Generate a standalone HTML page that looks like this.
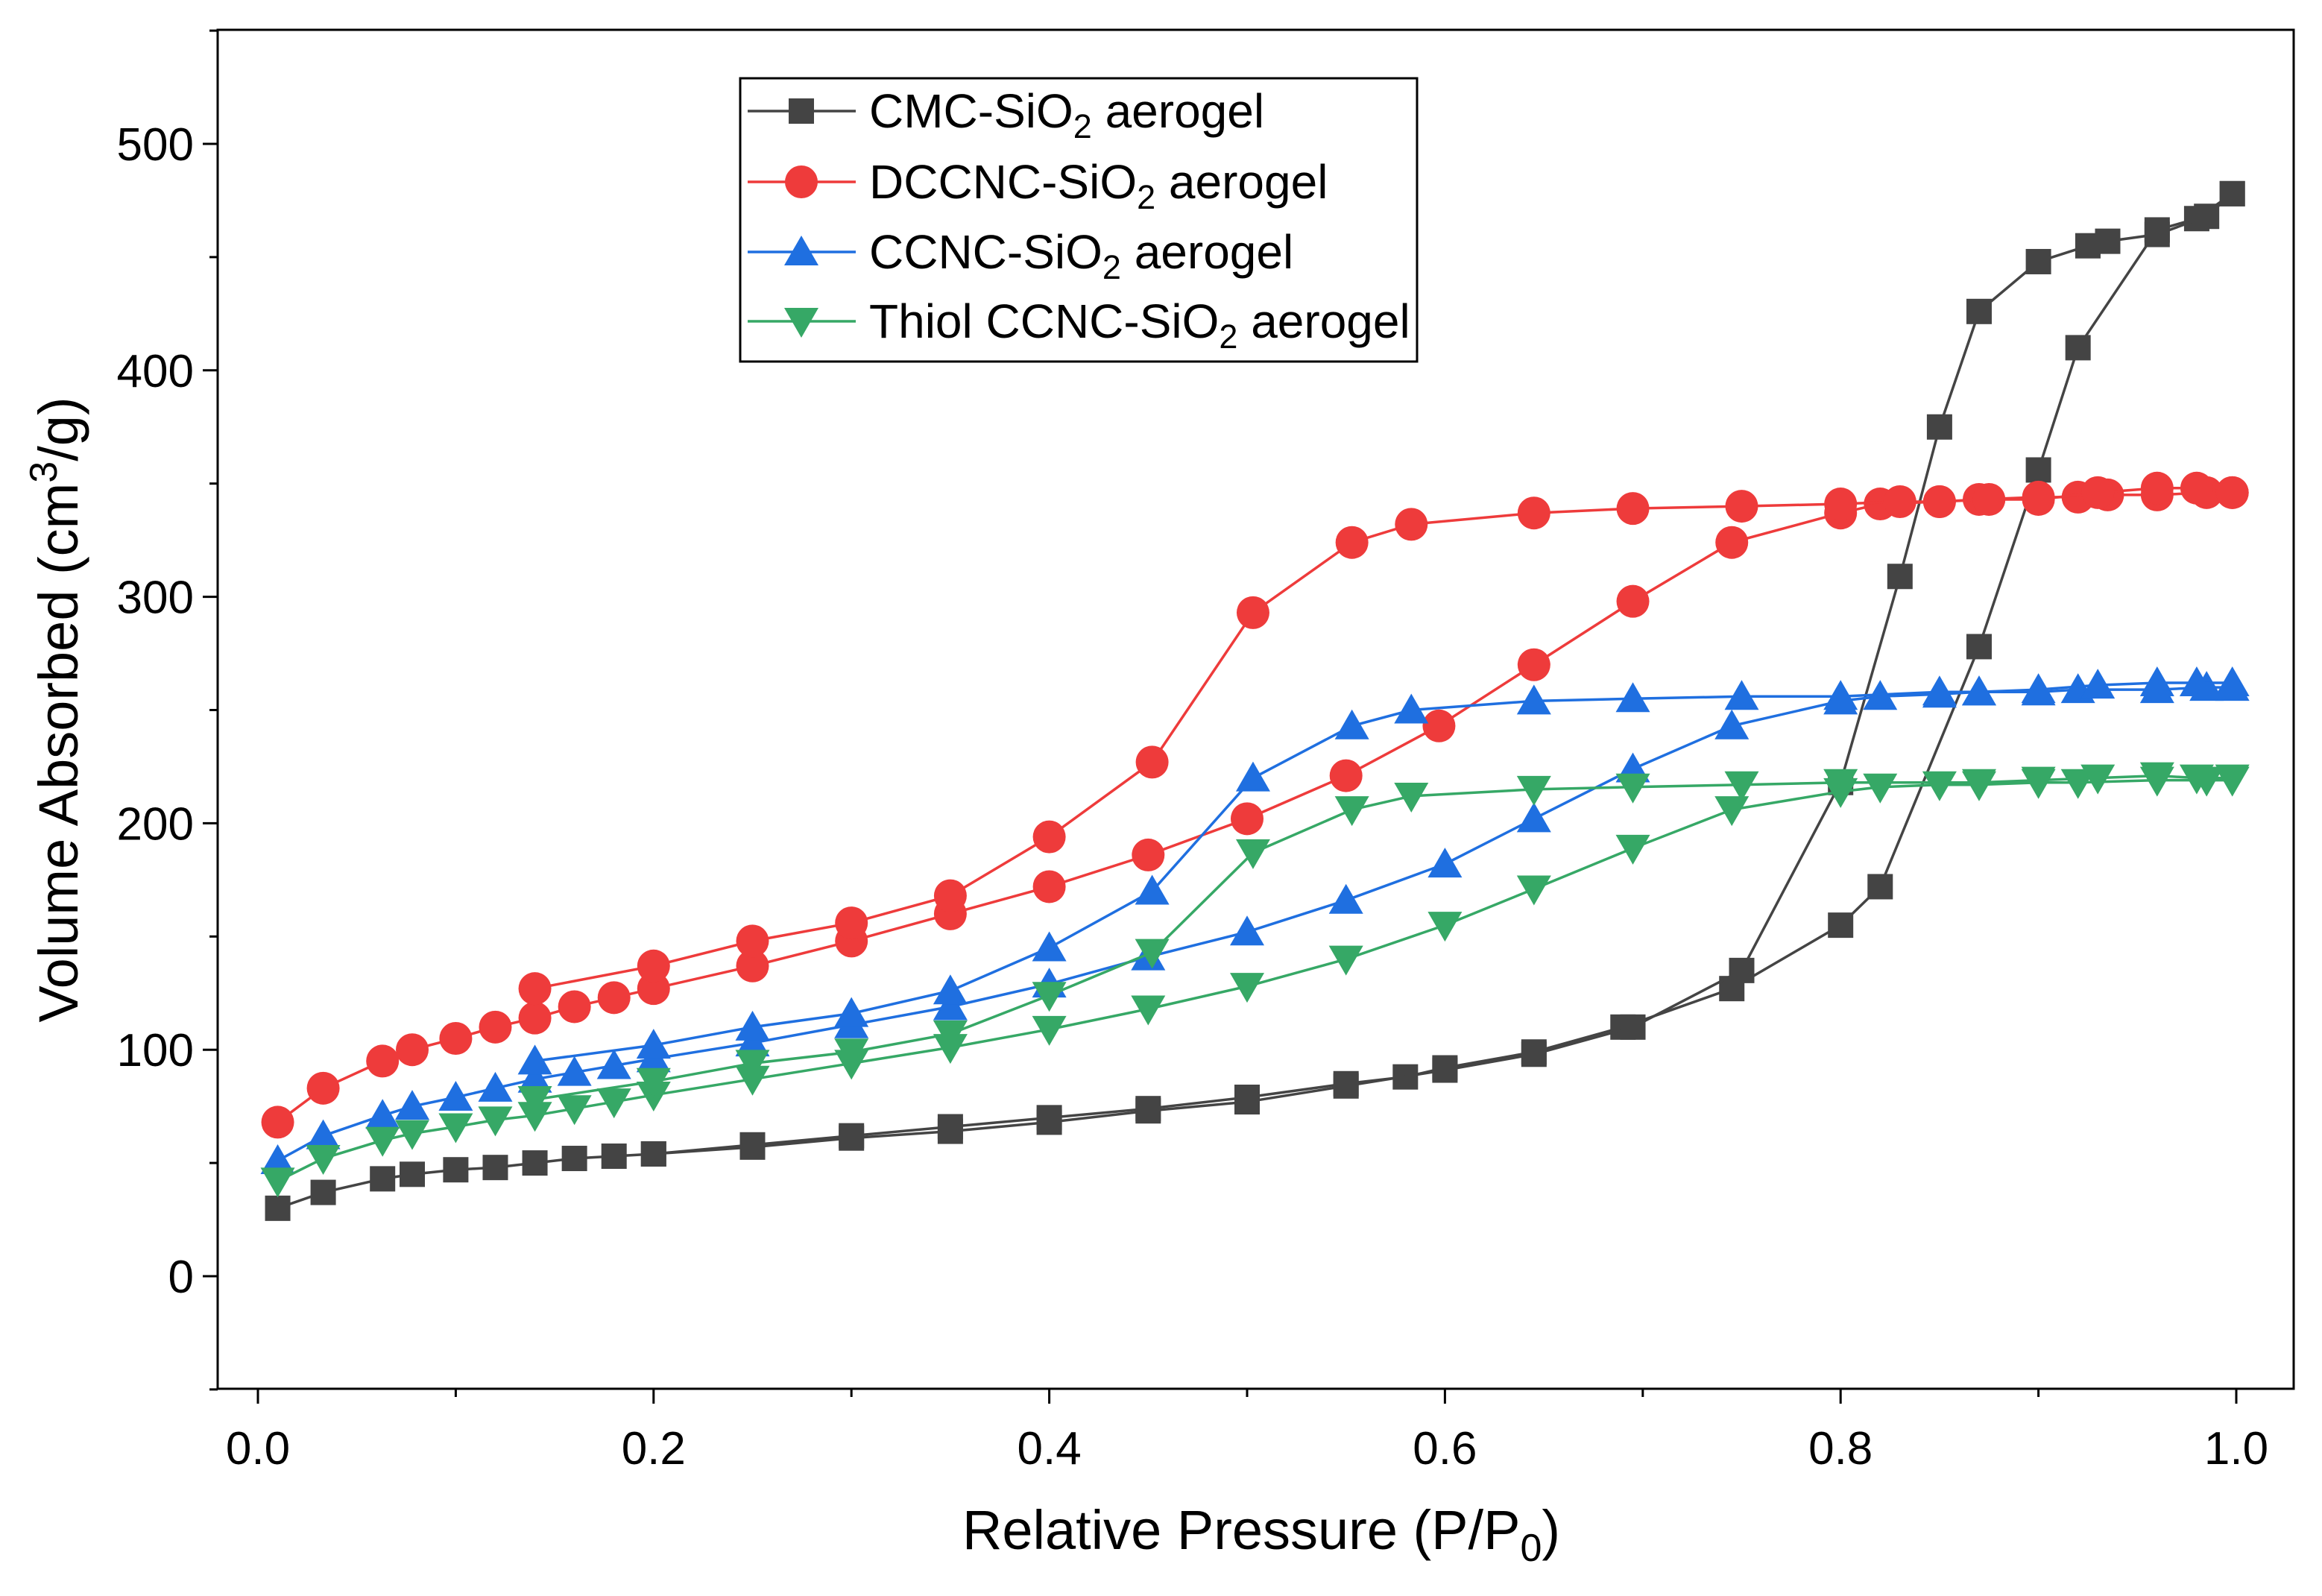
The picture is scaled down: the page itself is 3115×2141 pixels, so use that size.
<!DOCTYPE html>
<html><head><meta charset="utf-8">
<style>
html,body{margin:0;padding:0;background:#fff;}
svg{display:block;font-family:"Liberation Sans",Arial,sans-serif;}
</style></head>
<body>
<svg id="chart" width="3115" height="2141" viewBox="0 0 3115 2141" xmlns="http://www.w3.org/2000/svg">
<rect x="0" y="0" width="3115" height="2141" fill="#fff"/>
<g id="marks"></g>
<rect x="292" y="40" width="2785" height="1823" fill="none" stroke="#000" stroke-width="3"/>
<g id="axes"></g>
<text x="1692" y="2078" font-size="74" text-anchor="middle">Relative Pressure (P/P<tspan font-size="52" dy="16">0</tspan><tspan dy="-16">)</tspan></text>
<text transform="translate(104,952) rotate(-90)" font-size="74" text-anchor="middle">Volume Absorbed (cm<tspan font-size="52" dy="-28">3</tspan><tspan dy="28">/g)</tspan></text>
<g id="legend">
<rect x="993" y="105" width="908" height="380" fill="#fff" stroke="#000" stroke-width="3"/>
</g>
</svg>
<script>
const xTicks=[0.0,0.2,0.4,0.6,0.8,1.0];
const xTickLabels=["0.0","0.2","0.4","0.6","0.8","1.0"];
const yTicks=[0,100,200,300,400,500];
const yTickLabels=["0","100","200","300","400","500"];
const seriesNames=["CMC-SiO","DCCNC-SiO","CCNC-SiO","Thiol CCNC-SiO"];
const cmcAdsX=[0.01,0.033,0.063,0.078,0.1,0.12,0.14,0.16,0.18,0.2,0.25,0.3,0.35,0.4,0.45,0.5,0.55,0.58,0.6,0.645,0.69,0.745,0.8,0.82,0.87,0.9,0.92,0.96,0.98,0.998];
const cmcAdsY=[30,37,43,45,47,48,50,52,53,54,58,62,66,70,74,79,85,88,92,99,110,127,155,172,278,356,410,462,467,478];
const cmcDesX=[0.998,0.985,0.96,0.935,0.925,0.9,0.87,0.85,0.83,0.8,0.75,0.695,0.645,0.6,0.55,0.5,0.45,0.4,0.35,0.3,0.25,0.2];
const cmcDesY=[478,468,460,457,455,448,426,375,309,218,135,110,98,91,84,77,73,68,64,61,57,54];
const dcAdsX=[0.01,0.033,0.063,0.078,0.1,0.12,0.14,0.16,0.18,0.2,0.25,0.3,0.35,0.4,0.45,0.5,0.55,0.597,0.645,0.695,0.745,0.8,0.82,0.85,0.87,0.9,0.92,0.935,0.96,0.985,0.998];
const dcAdsY=[68,83,95,100,105,110,114,119,123,127,137,148,160,172,186,202,221,243,270,298,324,337,341,342,343,344,344,345,345,346,346];
const dcDesX=[0.998,0.98,0.96,0.93,0.9,0.875,0.85,0.83,0.8,0.75,0.695,0.645,0.583,0.553,0.503,0.452,0.4,0.35,0.3,0.25,0.2,0.14];
const dcDesY=[346,348,348,346,343,343,342,342,341,340,339,337,332,324,293,227,194,168,156,148,137,127];
const ccAdsX=[0.01,0.033,0.063,0.078,0.1,0.12,0.14,0.16,0.18,0.2,0.25,0.3,0.35,0.4,0.45,0.5,0.55,0.6,0.645,0.695,0.745,0.8,0.82,0.85,0.87,0.9,0.92,0.96,0.985,0.998];
const ccAdsY=[51,62,71,75,79,83,87,90,93,96,103,111,119,129,141,152,166,182,202,224,243,254,256,257,258,258,259,259,260,260];
const ccDesX=[0.998,0.98,0.96,0.93,0.9,0.87,0.85,0.8,0.75,0.695,0.645,0.583,0.553,0.503,0.452,0.4,0.35,0.3,0.25,0.2,0.14];
const ccDesY=[262,262,262,261,259,258,258,256,256,255,254,250,243,220,170,145,126,116,110,102,95];
const thAdsX=[0.01,0.033,0.063,0.078,0.1,0.12,0.14,0.16,0.18,0.2,0.25,0.3,0.35,0.4,0.45,0.5,0.55,0.6,0.645,0.695,0.745,0.8,0.82,0.85,0.87,0.9,0.92,0.96,0.985,0.998];
const thAdsY=[42,52,60,63,66,69,71,74,77,80,87,94,101,109,118,128,140,155,171,189,206,214,216,217,217,218,218,219,219,219];
const thDesX=[0.998,0.98,0.96,0.93,0.9,0.87,0.8,0.75,0.695,0.645,0.583,0.553,0.503,0.452,0.4,0.35,0.3,0.25,0.2,0.14];
const thDesY=[220,220,221,220,219,218,218,217,216,215,212,206,187,143,124,107,99,94,86,78];

const NS="http://www.w3.org/2000/svg";
const X0=346,X1=3000,Y0=1712,Y500=193;
function sx(v){return X0+(X1-X0)*v;}
function sy(v){return Y0+(Y500-Y0)*v/500;}
function mk(tag,attrs,parent){const e=document.createElementNS(NS,tag);for(const k in attrs)e.setAttribute(k,attrs[k]);parent.appendChild(e);return e;}
const axes=document.getElementById('axes');
const marks=document.getElementById('marks');
const legend=document.getElementById('legend');
for(let i=0;i<=10;i++){const v=i/10;const major=i%2===0;
 const t=mk('line',{x1:sx(v),x2:sx(v),y1:1863,y2:1863+(major?20:11),stroke:'#000','stroke-width':3},axes);
 
 }
xTicks.forEach((v,i)=>{const t=mk('text',{x:sx(v),y:1964,'font-size':62,'text-anchor':'middle'},axes);t.textContent=xTickLabels[i];
 
 });
for(let v=-50;v<=550;v+=50){const major=v%100===0;
 const t=mk('line',{x1:292-(major?20:11),x2:292,y1:sy(v),y2:sy(v),stroke:'#000','stroke-width':3},axes);
 
 }
yTicks.forEach((v,i)=>{const t=mk('text',{x:260,y:sy(v)+22,'font-size':62,'text-anchor':'end'},axes);t.textContent=yTickLabels[i];
 
 });

function marker(shape,x,y,color,g){
 if(shape==='sq')return mk('rect',{x:x-17,y:y-17,width:34,height:34,fill:color},g);
 if(shape==='ci')return mk('circle',{cx:x,cy:y,r:22,fill:color},g);
 if(shape==='up')return mk('polygon',{points:`${x},${y-22} ${x-23},${y+18} ${x+23},${y+18}`,fill:color},g);
 return mk('polygon',{points:`${x},${y+22} ${x-23},${y-18} ${x+23},${y-18}`,fill:color},g);
}
const series=[
 {name:'cmc',color:'#444444',shape:'sq',a:[cmcAdsX,cmcAdsY],d:[cmcDesX,cmcDesY]},
 {name:'dccnc',color:'#ee3b3b',shape:'ci',a:[dcAdsX,dcAdsY],d:[dcDesX,dcDesY]},
 {name:'ccnc',color:'#1f6fe0',shape:'up',a:[ccAdsX,ccAdsY],d:[ccDesX,ccDesY]},
 {name:'thiol',color:'#36a866',shape:'dn',a:[thAdsX,thAdsY],d:[thDesX,thDesY]}];
series.forEach(s=>{
 const g=mk('g',{},marks);
 
 
 [s.a,s.d].forEach(([xs,ys])=>{
  const pts=xs.map((x,i)=>sx(x)+','+sy(ys[i])).join(' ');
  const l=mk('polyline',{points:pts,fill:'none',stroke:s.color,'stroke-width':3.5},g);
  
  
  xs.forEach((x,i)=>{const m=marker(s.shape,sx(x),sy(ys[i]),s.color,g);
   
   });
 });
});
const ly=[149,244,338,431];
series.forEach((s,i)=>{
 const g=mk('g',{},legend);
 
 
 mk('line',{x1:1003,x2:1148,y1:ly[i],y2:ly[i],stroke:s.color,'stroke-width':3.5},g);
 marker(s.shape,1075,ly[i],s.color,g);
 const t=mk('text',{x:1166,y:ly[i]+22,'font-size':64},g);
 t.appendChild(document.createTextNode(seriesNames[i]));
 const sub=mk('tspan',{'font-size':45,dy:14},t);sub.textContent='2';
 const rest=mk('tspan',{dy:-14},t);rest.textContent=' aerogel';
});
</script>
</body></html>
